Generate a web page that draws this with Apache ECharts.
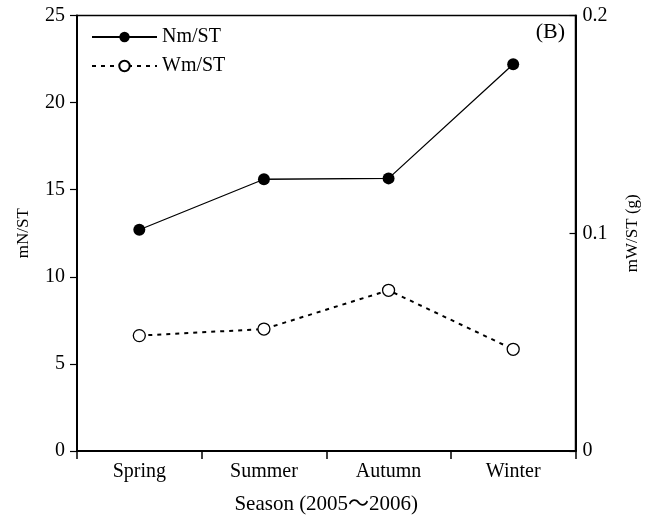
<!DOCTYPE html>
<html>
<head>
<meta charset="utf-8">
<script src="https://cdn.jsdelivr.net/npm/echarts@6/dist/echarts.min.js"></script>
<style>
html,body{margin:0;padding:0;background:#fff;}
#chart{width:653px;height:518px;}
</style>
</head>
<body>
<div id="chart"></div>
<script>
var seasons = ['Spring', 'Summer', 'Autumn', 'Winter'];
var nmST = [12.7, 15.6, 15.65, 22.2];
var wmST = [0.053, 0.056, 0.0738, 0.0467];
var leftTicks = [0, 5, 10, 15, 20, 25];
var rightTicks = [0, 0.1, 0.2];

var FONT = "'Liberation Serif', 'Times New Roman', 'Noto Sans CJK SC', serif";
var chart = echarts.init(document.getElementById('chart'), null, {renderer: 'canvas'});
chart.setOption({
  animation: false,
  backgroundColor: '#fff',
  textStyle: {fontFamily: FONT, color: '#000'},
  grid: {
    left: 77, right: 77.5, top: 15.5, bottom: 67,
    containLabel: false,
    outerBoundsMode: 'none',
    show: true, borderColor: '#000', borderWidth: 1.5, backgroundColor: 'transparent'
  },
  legend: {
    orient: 'vertical',
    left: 86, top: 22,
    itemWidth: 65, itemHeight: 13, itemGap: 9,
    textStyle: {fontFamily: FONT, fontSize: 20, color: '#000'},
    data: ['Nm/ST', 'Wm/ST']
  },
  graphic: [{
    type: 'text', right: 88, top: 21,
    style: {text: '(B)', fontFamily: FONT, fontSize: 22, fill: '#000'}
  }],
  xAxis: {
    type: 'category',
    data: seasons,
    boundaryGap: true,
    name: 'Season (2005～2006)',
    nameLocation: 'middle',
    nameGap: 43,
    nameTextStyle: {fontFamily: FONT, fontSize: 21, color: '#000'},
    axisLine: {lineStyle: {color: '#000', width: 2}},
    axisTick: {show: true, alignWithLabel: false, length: 8, lineStyle: {color: '#000', width: 1.5}},
    axisLabel: {fontFamily: FONT, fontSize: 20, color: '#000', margin: 11},
    splitLine: {show: false}
  },
  yAxis: [{
    type: 'value',
    min: leftTicks[0], max: leftTicks[leftTicks.length - 1], interval: 5,
    name: 'mN/ST',
    nameLocation: 'middle',
    nameRotate: 90,
    nameGap: 45,
    nameTextStyle: {fontFamily: FONT, fontSize: 17, color: '#000'},
    axisLine: {show: true, lineStyle: {color: '#000', width: 2}},
    axisTick: {show: true, length: 7, lineStyle: {color: '#000', width: 1.2}},
    axisLabel: {fontFamily: FONT, fontSize: 20, color: '#000', margin: 12},
    splitLine: {show: false}
  }, {
    type: 'value',
    position: 'right',
    min: rightTicks[0], max: rightTicks[rightTicks.length - 1], interval: 0.1,
    name: 'mW/ST (g)',
    nameLocation: 'middle',
    nameRotate: 90,
    nameGap: 49,
    nameTextStyle: {fontFamily: FONT, fontSize: 17, color: '#000'},
    axisLine: {show: true, lineStyle: {color: '#000', width: 2}},
    axisTick: {show: true, inside: true, length: 6, lineStyle: {color: '#000', width: 1.2}},
    axisLabel: {fontFamily: FONT, fontSize: 20, color: '#000', margin: 7},
    splitLine: {show: false}
  }],
  series: [{
    name: 'Nm/ST',
    type: 'line',
    yAxisIndex: 0,
    data: nmST,
    symbol: 'circle',
    symbolSize: 12,
    itemStyle: {color: '#000', borderColor: '#000', borderWidth: 0},
    lineStyle: {color: '#000', width: 1.3, type: 'solid'},
    z: 3
  }, {
    name: 'Wm/ST',
    type: 'line',
    yAxisIndex: 1,
    data: wmST,
    symbol: 'circle',
    symbolSize: 12,
    itemStyle: {color: '#fff', borderColor: '#000', borderWidth: 1.3},
    lineStyle: {color: '#000', width: 2, type: [4, 5]},
    z: 3
  }]
});
</script>
</body>
</html>
